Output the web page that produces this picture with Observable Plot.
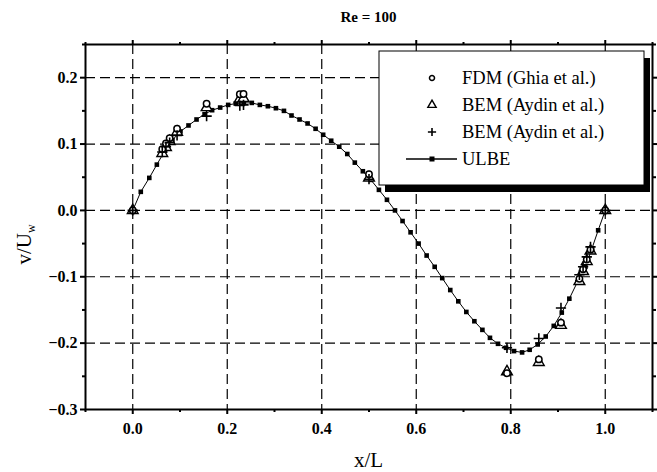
<!DOCTYPE html>
<html>
<head>
<meta charset="utf-8">
<script src="https://cdn.jsdelivr.net/npm/d3@7"></script>
<script src="https://cdn.jsdelivr.net/npm/@observablehq/plot@0.6"></script>
<style>
  html, body { margin: 0; padding: 0; background: #fff; }
  svg { display: block; }
</style>
</head>
<body>
<div id="chart"></div>
<script>
// ---- data ----
const title = "Re = 100";
const xLabel = "x/L";
const seriesNames = ["FDM (Ghia et al.)", "BEM (Aydin et al.)", "BEM (Aydin et al.)", "ULBE"];

const markerX = [0, 0.0625, 0.0703, 0.0781, 0.0938, 0.1563, 0.2266, 0.2344, 0.5, 0.792, 0.8594, 0.9063, 0.9453, 0.9531, 0.9609, 0.9688, 1.0];
const fdmY  = [0, 0.0923, 0.1009, 0.1089, 0.1232, 0.1608, 0.1751, 0.1753, 0.0545, -0.2453, -0.2245, -0.1691, -0.1031, -0.0886, -0.0739, -0.0591, 0];
const bemY  = [0, 0.086, 0.095, 0.104, 0.118, 0.155, 0.168, 0.169, 0.049, -0.243, -0.229, -0.173, -0.107, -0.092, -0.077, -0.061, 0];
const bem2Y = [0, 0.088, 0.096, 0.102, 0.113, 0.142, 0.158, 0.159, 0.047, -0.207, -0.193, -0.147, -0.097, -0.085, -0.070, -0.055, 0];

const ulbeX = [0, 0.017, 0.035, 0.051, 0.068, 0.084, 0.101, 0.118, 0.135, 0.152, 0.168, 0.185, 0.202, 0.218, 0.235, 0.252, 0.269, 0.286, 0.303, 0.320, 0.336, 0.353, 0.370, 0.387, 0.403, 0.420, 0.437, 0.454, 0.470, 0.487, 0.504, 0.521, 0.538, 0.555, 0.571, 0.588, 0.605, 0.622, 0.639, 0.655, 0.672, 0.689, 0.706, 0.723, 0.740, 0.756, 0.773, 0.790, 0.807, 0.824, 0.840, 0.857, 0.874, 0.891, 0.908, 0.924, 0.941, 0.958, 0.972, 0.985, 1.0];
const ulbeY = [0, 0.028, 0.049, 0.069, 0.090, 0.106, 0.119, 0.128, 0.137, 0.145, 0.151, 0.155, 0.159, 0.161, 0.162, 0.162, 0.159, 0.157, 0.154, 0.150, 0.143, 0.137, 0.131, 0.123, 0.114, 0.105, 0.096, 0.085, 0.072, 0.059, 0.046, 0.031, 0.016, 0.000, -0.016, -0.033, -0.050, -0.068, -0.085, -0.102, -0.120, -0.137, -0.153, -0.167, -0.180, -0.192, -0.201, -0.207, -0.212, -0.214, -0.210, -0.202, -0.190, -0.174, -0.154, -0.133, -0.108, -0.085, -0.057, -0.030, 0];

const xMajor = [0, 0.2, 0.4, 0.6, 0.8, 1.0];
const xMinor = [-0.1, 0.1, 0.3, 0.5, 0.7, 0.9, 1.1];
const yMajor = [-0.3, -0.2, -0.1, 0.0, 0.1, 0.2];
const yMinor = [-0.25, -0.15, -0.05, 0.05, 0.15, 0.25];
const yGrid = [-0.2, -0.1, 0.0, 0.1, 0.2];

// ---- tables ----
const fdm = markerX.map((x, i) => ({x, y: fdmY[i]}));
const bem = markerX.map((x, i) => ({x, y: bemY[i]}));
const bem2 = markerX.map((x, i) => ({x, y: bem2Y[i]}));
const ulbe = ulbeX.map((x, i) => ({x, y: ulbeY[i]}));

const FONT = "'Liberation Serif', 'DejaVu Serif', serif";
const fmt = d3.format(".1f");

// annotations: title, axis labels (with subscript), legend
function annotations(index, scales, values, dims) {
  const {width, height, marginLeft, marginRight, marginTop, marginBottom} = dims;
  const g = d3.create("svg:g").attr("font-family", FONT).attr("fill", "black").attr("text-anchor", "start");
  const cx = (marginLeft + width - marginRight) / 2;
  g.append("text").attr("x", cx).attr("y", 22).attr("text-anchor", "middle")
    .attr("font-size", 15).attr("font-weight", "bold").text(title);
  g.append("text").attr("x", cx).attr("y", height - 5).attr("text-anchor", "middle")
    .attr("font-size", 21).text(xLabel);
  const yl = g.append("text").attr("transform", `translate(31,${(marginTop + height - marginBottom) / 2 + 18}) rotate(-90)`)
    .attr("text-anchor", "middle").attr("font-size", 21);
  yl.append("tspan").text("v/U");
  yl.append("tspan").attr("font-size", 12).attr("dy", 4).text("w");

  // legend
  const lx = 379, ly = 51, lw = 265, lh = 134;
  g.append("rect").attr("x", lx + 6).attr("y", ly + 7).attr("width", lw).attr("height", lh).attr("fill", "black");
  g.append("rect").attr("x", lx).attr("y", ly).attr("width", lw).attr("height", lh)
    .attr("fill", "white").attr("stroke", "black").attr("stroke-width", 1);
  const rows = [78, 105, 132, 159];
  const sx = 432, tx = 462;
  const sym = (type, size) => d3.symbol(type, size)();
  g.append("path").attr("d", sym(d3.symbolCircle, 20)).attr("transform", `translate(${sx},${rows[0]})`)
    .attr("fill", "white").attr("stroke", "black").attr("stroke-width", 1.5);
  g.append("path").attr("d", sym(d3.symbolTriangle, 30)).attr("transform", `translate(${sx},${rows[1]})`)
    .attr("fill", "white").attr("stroke", "black").attr("stroke-width", 1.4);
  g.append("path").attr("d", sym(d3.symbolPlus, 24)).attr("transform", `translate(${sx},${rows[2]})`)
    .attr("fill", "none").attr("stroke", "black").attr("stroke-width", 1.6);
  g.append("line").attr("x1", 406).attr("x2", 457).attr("y1", rows[3]).attr("y2", rows[3])
    .attr("stroke", "black").attr("stroke-width", 1.4);
  g.append("rect").attr("x", sx - 2.5).attr("y", rows[3] - 2.5).attr("width", 5).attr("height", 5).attr("fill", "black");
  seriesNames.forEach((s, i) => {
    g.append("text").attr("x", tx).attr("y", rows[i] + 6).attr("font-size", 18.5).text(s);
  });
  return g.node();
}

const chart = Plot.plot({
  width: 657,
  height: 472,
  marginTop: 44,
  marginRight: 5,
  marginBottom: 63,
  marginLeft: 85,
  style: {fontFamily: FONT, background: "white", color: "black"},
  x: {domain: [-0.1, 1.1]},
  y: {domain: [-0.3, 0.25]},
  marks: [
    Plot.gridX(xMajor, {stroke: "black", strokeOpacity: 1, strokeWidth: 1.2, strokeDasharray: "10,5"}),
    Plot.gridY(yGrid, {stroke: "black", strokeOpacity: 1, strokeWidth: 1.2, strokeDasharray: "10,5"}),
    Plot.axisX(xMajor, {tickSize: 5, tickPadding: 8, tickFormat: fmt, fontSize: 16, fontWeight: "bold", strokeWidth: 2, label: null}),
    Plot.axisX(xMinor, {tickSize: 3, tickFormat: () => "", strokeWidth: 2, label: null}),
    Plot.axisX(xMajor, {anchor: "top", tickSize: 5, tickFormat: () => "", strokeWidth: 2, label: null}),
    Plot.axisX(xMinor, {anchor: "top", tickSize: 3, tickFormat: () => "", strokeWidth: 2, label: null}),
    Plot.axisY(yMajor, {tickSize: 5, tickPadding: 3, tickFormat: fmt, fontSize: 16, fontWeight: "bold", strokeWidth: 2, label: null}),
    Plot.axisY(yMinor, {tickSize: 3, tickFormat: () => "", strokeWidth: 2, label: null}),
    Plot.axisY(yMajor, {anchor: "right", tickSize: 5, tickFormat: () => "", strokeWidth: 2, label: null}),
    Plot.axisY(yMinor, {anchor: "right", tickSize: 3, tickFormat: () => "", strokeWidth: 2, label: null}),
    Plot.frame({stroke: "black", strokeWidth: 2}),
    Plot.line(ulbe, {x: "x", y: "y", stroke: "black", strokeWidth: 1}),
    Plot.dot(ulbe, {x: "x", y: "y", symbol: "square", r: 2.6, fill: "black", stroke: null}),
    Plot.dot(bem, {x: "x", y: "y", symbol: "triangle", r: 4, fill: "white", stroke: "black", strokeWidth: 1.4}),
    Plot.dot(fdm, {x: "x", y: "y", symbol: "circle", r: 3.2, fill: "white", stroke: "black", strokeWidth: 1.5}),
    Plot.dot(bem2, {x: "x", y: "y", symbol: "plus", r: 3.4, stroke: "black", strokeWidth: 1.6}),
    annotations
  ]
});
document.getElementById("chart").appendChild(chart);
</script>
</body>
</html>
